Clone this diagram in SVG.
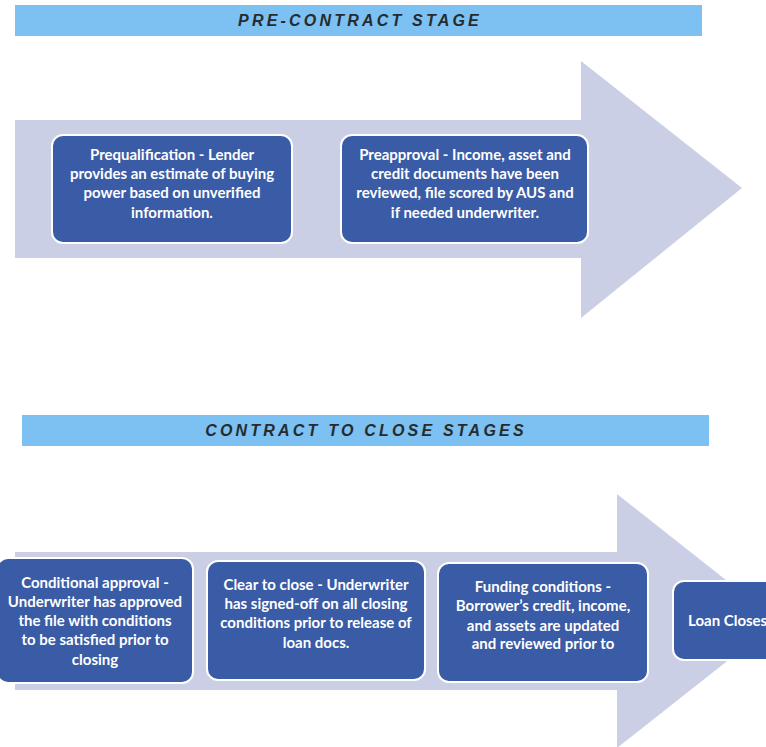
<svg xmlns="http://www.w3.org/2000/svg" width="766" height="747" viewBox="0 0 766 747">
<style>
.banner{fill:#7CC1F1;}
.btxt{font-family:"Liberation Sans",Arial,sans-serif;font-style:italic;font-weight:700;font-size:16px;letter-spacing:3.2px;fill:#262B2E;text-anchor:middle;}
.arrow{fill:#CBCFE6;}
.box{fill:#3A5BA5;stroke:#FFFFFF;stroke-width:2;}
.t{font-family:Lato,"Liberation Sans",sans-serif;font-weight:700;font-size:15px;fill:#FFFFFF;text-anchor:middle;}
</style>
<rect width="766" height="747" fill="#FFFFFF"/>
<g id="banner-pre">
<rect class="banner" x="15" y="5" width="687" height="31"/>
<text class="btxt" x="360" y="26">PRE-CONTRACT STAGE</text>
</g>
<g id="arrow-pre">
<polygon class="arrow" points="15,120 581,120 581,61 742,188 581,318 581,258 15,258"/>
</g>
<g id="prequalification">
<rect class="box" x="52" y="135" width="240" height="108" rx="11"/>
<text class="t" x="172" y="160">Prequalification - Lender</text>
<text class="t" x="172" y="179">provides an estimate of buying</text>
<text class="t" x="172" y="198">power based on unverified</text>
<text class="t" x="172" y="218">information.</text>
</g>
<g id="preapproval">
<rect class="box" x="341" y="135" width="247" height="108" rx="11"/>
<text class="t" x="465" y="160">Preapproval - Income, asset and</text>
<text class="t" x="465" y="179">credit documents have been</text>
<text class="t" x="465" y="198">reviewed, file scored by AUS and</text>
<text class="t" x="465" y="218">if needed underwriter.</text>
</g>
<g id="banner-close">
<rect class="banner" x="22" y="415" width="687" height="31"/>
<text class="btxt" x="366" y="436">CONTRACT TO CLOSE STAGES</text>
</g>
<g id="arrow-close">
<polygon class="arrow" points="15,552 617,552 617,494 778,621 617,748 617,690 15,690"/>
</g>
<g id="conditional-approval">
<rect class="box" x="-3" y="558" width="196" height="125" rx="11"/>
<text class="t" x="95" y="588">Conditional approval -</text>
<text class="t" x="95" y="607">Underwriter has approved</text>
<text class="t" x="95" y="626">the file with conditions</text>
<text class="t" x="95" y="645">to be satisfied prior to</text>
<text class="t" x="95" y="665">closing</text>
</g>
<g id="clear-to-close">
<rect class="box" x="207" y="561" width="218" height="119" rx="11"/>
<text class="t" x="316" y="590">Clear to close - Underwriter</text>
<text class="t" x="316" y="609">has signed-off on all closing</text>
<text class="t" x="316" y="628">conditions prior to release of</text>
<text class="t" x="316" y="648">loan docs.</text>
</g>
<g id="funding-conditions">
<rect class="box" x="438" y="563" width="210" height="119" rx="11"/>
<text class="t" x="543" y="592">Funding conditions -</text>
<text class="t" x="543" y="611">Borrower’s credit, income,</text>
<text class="t" x="543" y="631">and assets are updated</text>
<text class="t" x="543" y="649">and reviewed prior to</text>
</g>
<g id="loan-closes">
<rect class="box" x="673" y="581" width="120" height="79" rx="11"/>
<text class="t" x="688" y="626" style="text-anchor:start">Loan Closes</text>
</g>
</svg>
